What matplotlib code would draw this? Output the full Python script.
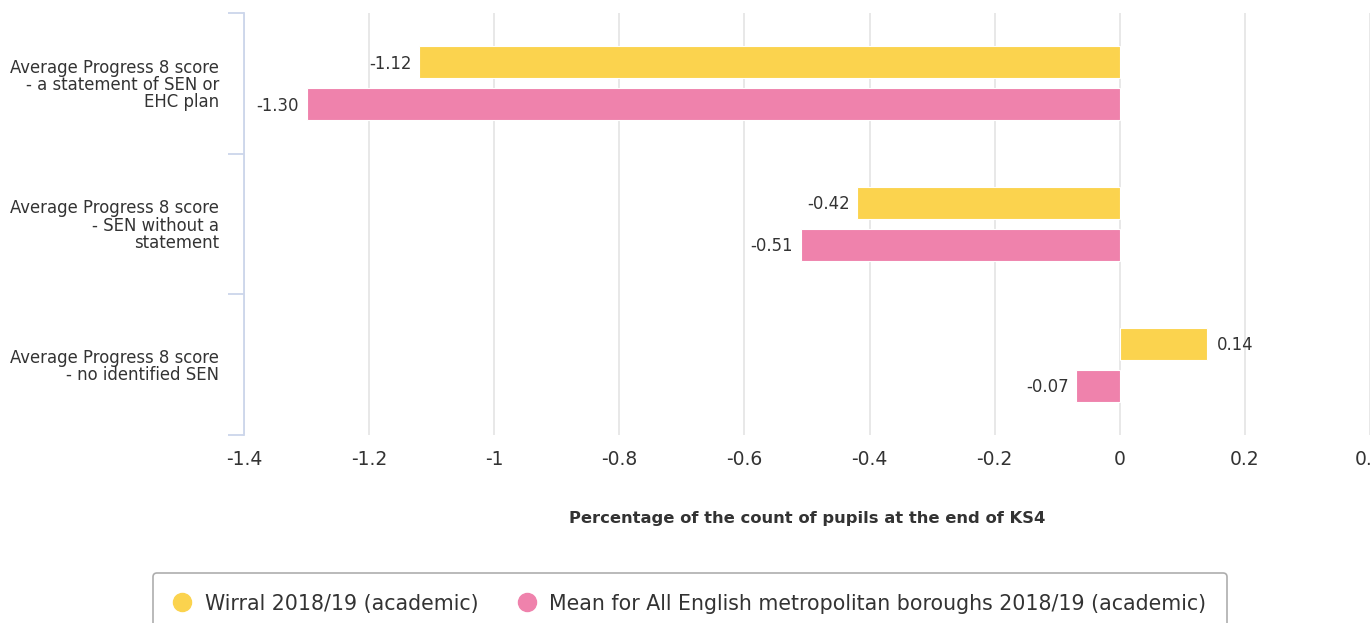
import numpy as np
from matplotlib import pyplot as plt
from matplotlib.lines import Line2D

plt.rcParams['font.family'] = ['DejaVu Sans']

categories = ["Average Progress 8 score\n- a statement of SEN or\nEHC plan",
              "Average Progress 8 score\n- SEN without a\nstatement",
              "Average Progress 8 score\n- no identified SEN"]
wirral = [-1.12, -0.42, 0.14]
mean_met = [-1.30, -0.51, -0.07]
series_names = ["Wirral 2018/19 (academic)",
                "Mean for All English metropolitan boroughs 2018/19 (academic)"]
xticks = [-1.4, -1.2, -1, -0.8, -0.6, -0.4, -0.2, 0, 0.2, 0.4]
xtick_labels = ["-1.4", "-1.2", "-1", "-0.8", "-0.6", "-0.4", "-0.2", "0", "0.2", "0.4"]

yellow = "#fbd34e"
pink = "#ef82ac"
txt = "#333333"

fig = plt.figure(figsize=(13.72, 6.23), dpi=100)
ax = fig.add_axes([244/1372, 1-435/623, 1126/1372, 422/623])

y = np.arange(len(categories))
h = 0.227
off = 0.149
ax.barh(y - off, wirral, height=h, color=yellow, edgecolor="white", linewidth=0.8, zorder=3)
ax.barh(y + off, mean_met, height=h, color=pink, edgecolor="white", linewidth=0.8, zorder=3)

for vals, pos in [(wirral, y - off), (mean_met, y + off)]:
    for v, p in zip(vals, pos):
        if v < 0:
            ax.text(v - 0.012, p + 0.01, "%.2f" % v, ha="right", va="center", fontsize=11.9, color=txt)
        else:
            ax.text(v + 0.015, p + 0.01, "%.2f" % v, ha="left", va="center", fontsize=11.9, color=txt)

ax.set_xlim(-1.4, 0.4)
ax.set_ylim(2.5, -0.5)
ax.set_xticks(xticks)
ax.set_xticklabels(xtick_labels, fontsize=13.5, color=txt)
ax.tick_params(axis="x", length=0, pad=11)
ax.grid(axis="x", color="#e6e6e6", linewidth=1.3, zorder=0)

# category ticks sit on the boundaries, labels in between
ax.set_yticks([-0.5, 0.5, 1.5, 2.5])
ax.set_yticklabels([])
ax.set_yticks(y, minor=True)
ax.set_yticklabels(categories, minor=True, fontsize=11.9, color=txt, linespacing=0.95)
ax.tick_params(axis="y", which="major", length=11.5, color="#ccd6eb", width=1.3)
ax.tick_params(axis="y", which="minor", length=0, pad=18)

for s in ["top", "right", "bottom"]:
    ax.spines[s].set_visible(False)
ax.spines["left"].set_color("#ccd6eb")
ax.spines["left"].set_linewidth(1.3)

ax.set_xlabel("Percentage of the count of pupils at the end of KS4", fontsize=11.8,
              fontweight="bold", color=txt, labelpad=30)

handles = [Line2D([], [], marker="o", linestyle="", markersize=13, color=yellow),
           Line2D([], [], marker="o", linestyle="", markersize=13, color=pink)]
leg = fig.legend(handles, series_names, loc="upper center", bbox_to_anchor=(0.503, 1-573/623),
                 ncol=2, fontsize=14.8, frameon=True, fancybox=True, edgecolor="#999999",
                 handlelength=0.85, handletextpad=0.68, columnspacing=1.9, borderpad=1.0,
                 borderaxespad=0, labelcolor=txt)
leg.get_frame().set_linewidth(1.2)

fig.savefig("out.png", dpi=100)
